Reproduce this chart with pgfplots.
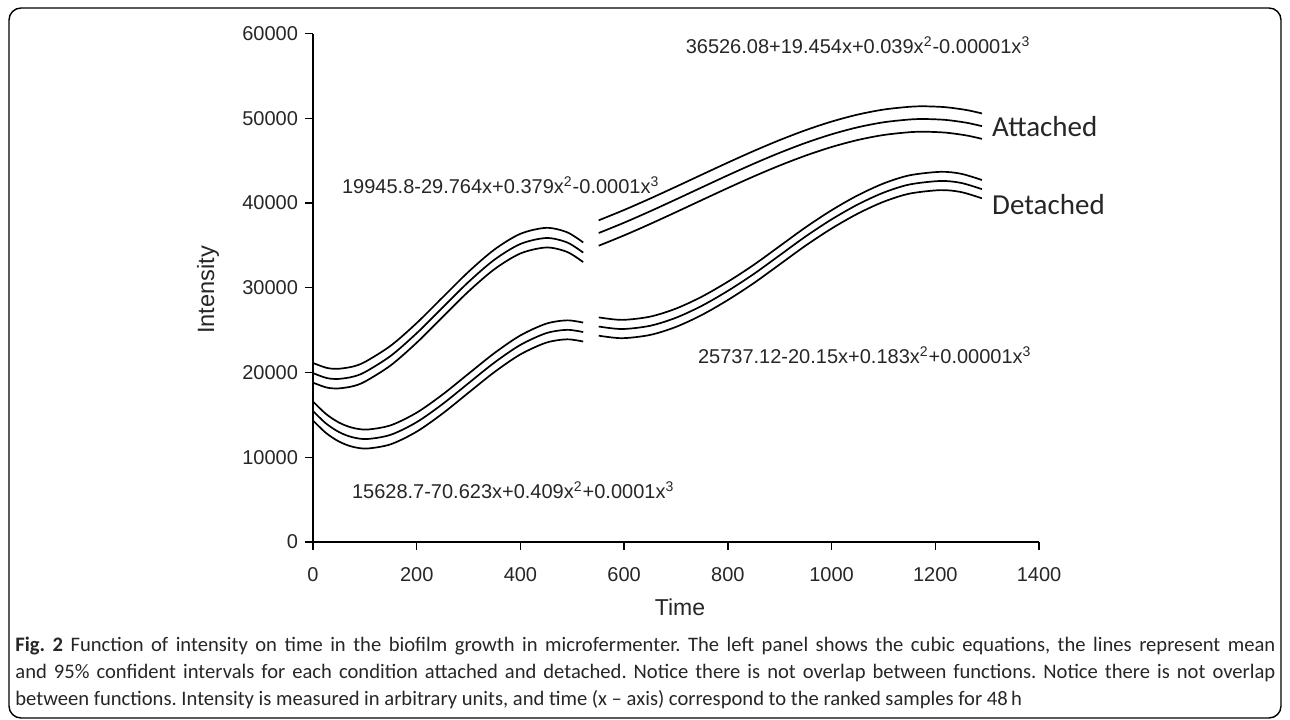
\documentclass[border=0pt]{standalone}
\usepackage{fontspec}
\setmainfont{Liberation Sans}
\newfontfamily\calib[Ligatures=TeX]{Carlito}
\usepackage{pgfplots}
\usepackage{pgfplotstable}
\pgfplotsset{compat=1.18}
\frenchspacing

\pgfplotstableread{
x mid top bot
0 19926 21126 18806
25 19370 20570 18250
46 19230 20430 18110
75 19475 20675 18355
100 20042 21242 18922
150 21970 23170 20850
200 24640 25840 23520
250 27673 28873 26553
300 30691 31891 29571
350 33316 34516 32196
400 35168 36368 34048
450 35870 37070 34750
490 35348 36548 34228
521 34147 35347 33027
}\attA

\pgfplotstableread{
x mid top bot
0 15460 16580 14340
25 13990 15110 12870
50 12977 14097 11857
75 12379 13499 11259
104 12150 13270 11030
150 12655 13775 11535
200 14144 15264 13024
250 16286 17406 15166
300 18742 19862 17622
350 21179 22299 20059
400 23260 24380 22140
450 24648 25768 23528
490 25035 26155 23915
521 24772 25892 23652
}\detA

\pgfplotstableread{
x mid top bot
551 36460 37960 34960
600 37681 39181 36181
650 39022 40522 37522
700 40425 41925 38925
750 41852 43352 40352
800 43269 44769 41769
850 44640 46140 43140
900 45927 47427 44427
950 47095 48595 45595
1000 48108 49608 46608
1050 48929 50429 47429
1100 49523 51023 48023
1150 49853 51353 48353
1180 49910 51410 48410
1220 49804 51304 48304
1260 49474 50974 47974
1290 49068 50568 47568
}\attB

\pgfplotstableread{
x mid top bot
551 25425 26505 24345
596 25130 26210 24050
650 25512 26592 24432
700 26464 27544 25384
750 27876 28956 26796
800 29634 30714 28554
850 31626 32706 30546
900 33837 34917 32757
950 36055 37135 34975
1000 38067 39147 36987
1050 39810 40890 38730
1100 41219 42299 40139
1150 42183 43263 41103
1210 42600 43680 41520
1250 42368 43448 41288
1290 41633 42713 40553
}\detB

\begin{document}
\begin{tikzpicture}[x=1pt,y=1pt]
\useasboundingbox (0,0) rectangle (645,359.5);
\draw[line width=0.7pt, rounded corners=6pt] (4.5,0.5) rectangle (640.5,355.5);
\begin{axis}[
  at={(156.5pt,88.5pt)}, anchor=south west,
  width=363pt, height=254.25pt, scale only axis,
  xmin=0, xmax=1400, ymin=0, ymax=60000,
  axis x line*=bottom, axis y line*=left,
  axis line style={line width=0.7pt, -},
  tick style={line width=0.7pt, black},
  tick align=outside, major tick length=4pt,
  xtick={0,200,...,1400}, ytick={0,10000,...,60000},
  scaled ticks=false,
  /pgf/number format/1000 sep={},
  /pgf/number format/assume math mode=true,
  tick label style={font=\fontsize{10}{12}\selectfont, text=black!85},
  xticklabel style={yshift=-5pt},
  clip=false,
]
\foreach \c in {top,mid,bot}{
  \addplot[black, solid, line width=0.85pt, smooth, no marks] table[x=x, y=\c] {\attA};
  \addplot[black, solid, line width=0.85pt, smooth, no marks] table[x=x, y=\c] {\detA};
  \addplot[black, solid, line width=0.85pt, smooth, no marks] table[x=x, y=\c] {\attB};
  \addplot[black, solid, line width=0.85pt, smooth, no marks] table[x=x, y=\c] {\detB};
}
\node[font=\fontsize{10}{12}\selectfont, text=black!85] at (axis cs:1051,58650) {36526.08+19.454x+0.039x\textsuperscript{2}-0.00001x\textsuperscript{3}};
\node[font=\fontsize{10}{12}\selectfont, text=black!85] at (axis cs:362,42126) {19945.8-29.764x+0.379x\textsuperscript{2}-0.0001x\textsuperscript{3}};
\node[font=\fontsize{10}{12}\selectfont, text=black!85] at (axis cs:1064,22066) {25737.12-20.15x+0.183x\textsuperscript{2}+0.00001x\textsuperscript{3}};
\node[font=\fontsize{10}{12}\selectfont, text=black!85] at (axis cs:386,6136) {15628.7-70.623x+0.409x\textsuperscript{2}+0.0001x\textsuperscript{3}};
\node[anchor=west, inner sep=0pt, font=\calib\fontsize{14.5}{16}\selectfont, text=black!85] at (axis cs:1309,48970) {Attached};
\node[anchor=west, inner sep=0pt, font=\calib\fontsize{14.5}{16}\selectfont, text=black!85] at (axis cs:1309,39770) {Detached};
\node[rotate=90, font=\fontsize{11.8}{13}\selectfont, text=black!85] at (axis description cs:-0.1446,0.496) {Intensity};
\node[font=\fontsize{11.5}{13}\selectfont, text=black!85] at (axis description cs:0.5055,-0.128) {Time};
\end{axis}
\node[anchor=north west, inner sep=0pt, text width=630pt, align=justify,
      font=\calib\fontsize{10.3}{13.5}\selectfont, text=black!85] at (7.5,41)
{\textbf{Fig. 2} Function of intensity on time in the biofilm growth in microfermenter. The left panel shows the cubic equations, the lines represent mean\linebreak and 95\% confident intervals for each condition attached and detached. Notice there is not overlap between functions. Notice there is not overlap\linebreak between functions. Intensity is measured in arbitrary units, and time (x – axis) correspond to the ranked samples for 48\,h};
\end{tikzpicture}
\end{document}
